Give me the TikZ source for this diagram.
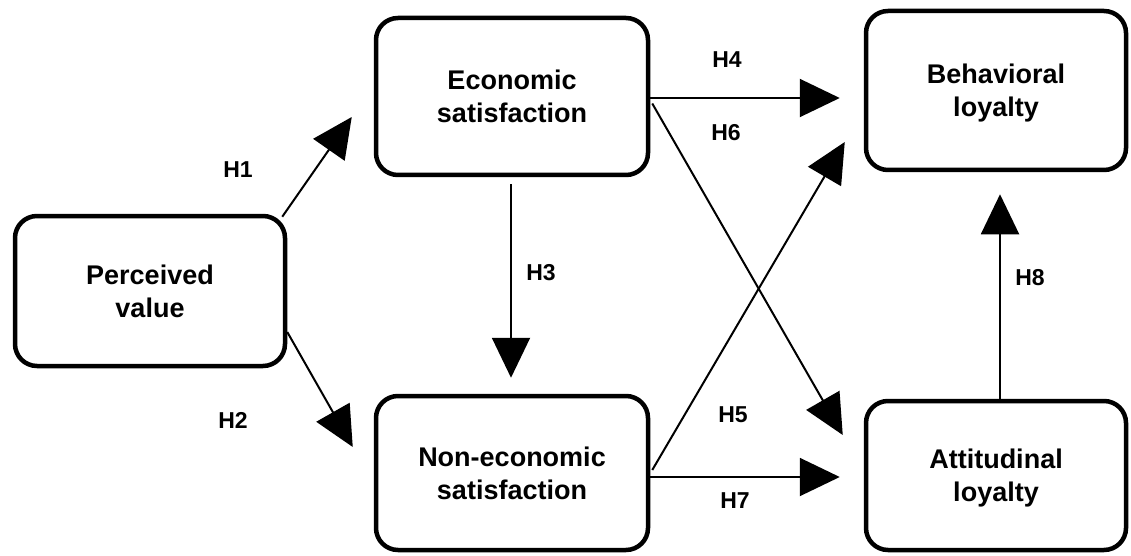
\documentclass[tikz,border=0pt]{standalone}
\usepackage{fontspec}
\setmainfont{Liberation Sans}
\usetikzlibrary{arrows.meta,calc}
\begin{document}
\begin{tikzpicture}[x=1pt,y=-1pt,
  construct/.style={draw, line width=4.5pt, rounded corners=22pt, align=center,
    inner sep=0pt, text depth=0pt, font=\fontsize{27}{33}\selectfont\bfseries},
  link/.style={line width=2pt, -{Triangle[length=40pt,width=38pt]}},
  hyp/.style={font=\fontsize{23}{27}\selectfont\bfseries, inner sep=0pt}]
\useasboundingbox (0,0) rectangle (1131,556);

% constructs
\node[construct, minimum width=270pt, minimum height=150pt] (pv) at (150,291) {Perceived\\value};
\node[construct, minimum width=272pt, minimum height=157pt] (es) at (512,96.5) {Economic\\satisfaction};
\node[construct, minimum width=272pt, minimum height=154pt] (ne) at (512,473) {Non-economic\\satisfaction};
\node[construct, minimum width=260pt, minimum height=159pt] (bl) at (996,90.5) {Behavioral\\loyalty};
\node[construct, minimum width=260pt, minimum height=149pt] (al) at (996,475.5) {Attitudinal\\loyalty};

% hypothesised paths
\draw[link] ($(pv.north east)+(-5,3)$) -- ($(es.west)+(-22,20.5)$);
\draw[link] ($(pv.east)+(0,41)$) -- ($(ne.west)+(-21,-26)$);
\draw[link] ($(es.south)+(-1,7)$) -- ($(ne.north)+(-1,-16)$);
\draw[link] ($(es.east)+(0,1.5)$) -- ($(bl.west)+(-24,7.5)$);
\draw[link] ($(es.east)+(2,7)$) -- ($(al.west)+(-21,-40.5)$);
\draw[link] ($(ne.east)+(2,-3)$) -- ($(bl.west)+(-19,51.5)$);
\draw[link] ($(ne.east)+(0,4)$) -- ($(al.west)+(-24,1.5)$);
\draw[link] ($(al.north)+(4,0)$) -- ($(bl.south)+(4,22)$);

% hypothesis labels
\node[hyp] (h1) at (238,170) {H1};
\node[hyp] (h2) at (233,420) {H2};
\node[hyp] (h3) at (541,273) {H3};
\node[hyp] (h4) at (727,60) {H4};
\node[hyp] (h6) at (726,133) {H6};
\node[hyp] (h5) at (733,415) {H5};
\node[hyp] (h7) at (735,501) {H7};
\node[hyp] (h8) at (1030,278) {H8};
\end{tikzpicture}
\end{document}
